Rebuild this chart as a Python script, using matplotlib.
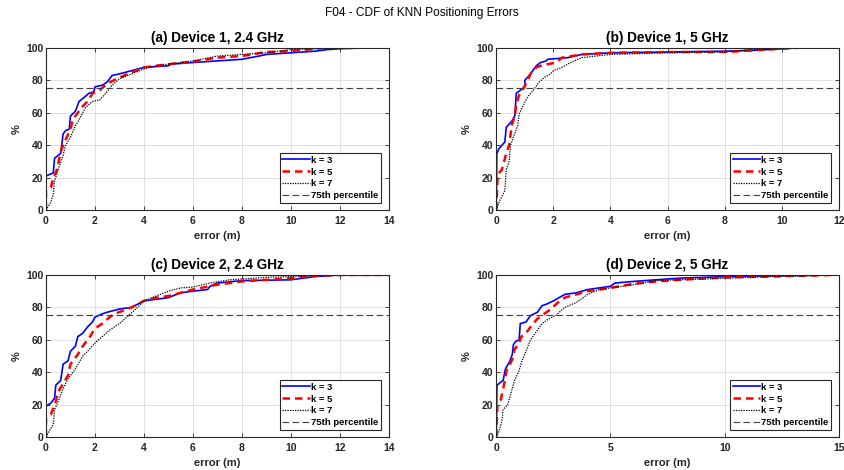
import numpy as np
import matplotlib.pyplot as plt

# CDF curves: (error in m, cumulative %)
a_k3_x = [0, 0, 0.3, 0.35, 0.6, 0.7, 0.8, 0.95, 1.0, 1.2, 1.35, 1.6, 1.75, 1.95, 2.0, 2.3, 2.5, 2.7, 3.0, 3.5, 4, 5, 5.1, 6, 8, 8.7, 9, 10, 11, 11.5, 12, 13]
a_k3_y = [0, 21, 23, 32, 35, 47, 49, 50, 58, 61, 67, 70, 72, 73, 76, 77, 79, 83, 84, 86, 88, 89, 90, 91, 93, 95, 96, 97, 98, 99, 99.5, 100]
a_k5_x = [0, 0, 0.2, 0.3, 0.45, 0.6, 0.7, 0.85, 1.0, 1.1, 1.35, 1.5, 1.7, 1.9, 2.2, 2.5, 2.9, 3.5, 4, 5, 6, 7, 8, 9, 10, 11, 11.5]
a_k5_y = [0, 12, 14, 20, 25, 36, 40, 45, 50, 56, 61, 64, 67, 72, 74, 78, 81, 85, 88, 90, 91.5, 94, 95, 97.5, 98, 99.5, 100]
a_k7_x = [0, 0.2, 0.3, 0.35, 0.5, 0.7, 0.8, 1.0, 1.2, 1.4, 1.6, 1.9, 2.2, 2.5, 2.7, 3.0, 3.5, 4, 4.5, 5, 6, 7, 8, 9, 10, 11, 11.5]
a_k7_y = [0, 5, 10, 18, 25, 34, 40, 45, 52, 57, 63, 67, 68, 73, 77, 81, 84, 87, 89, 90, 92, 95, 96, 97, 99, 99.5, 100]

b_k3_x = [0, 0.02, 0.1, 0.3, 0.35, 0.55, 0.65, 0.7, 0.85, 1.0, 1.0, 1.2, 1.4, 1.55, 1.75, 1.8, 2.5, 3, 4, 6, 8, 9, 10.5]
b_k3_y = [0, 35, 38, 42, 51, 55, 58, 72, 74, 76, 80, 84, 89, 91, 92, 93, 94, 96, 97, 97.5, 98, 98.5, 100]
b_k5_x = [0, 0.05, 0.2, 0.35, 0.45, 0.55, 0.65, 0.7, 0.8, 0.95, 1.1, 1.2, 1.4, 1.55, 1.8, 2.1, 2.3, 3, 4, 6, 8, 9, 10.5]
b_k5_y = [0, 22, 25, 35, 40, 53, 58, 65, 71, 75, 80, 84, 88, 89, 90, 91, 94, 96, 97, 97.5, 97.5, 98.5, 100]
b_k7_x = [0, 0.1, 0.3, 0.35, 0.45, 0.5, 0.6, 0.75, 0.8, 0.9, 1.1, 1.3, 1.5, 1.7, 1.9, 2.0, 2.3, 2.6, 3, 3.5, 4, 6, 8, 9, 10.5]
b_k7_y = [0, 5, 12, 25, 30, 40, 45, 52, 59, 63, 70, 74, 79, 82, 84, 86, 88, 91, 94, 95, 96, 97, 97.5, 99, 100]

c_k3_x = [0, 0, 0.2, 0.35, 0.4, 0.6, 0.7, 0.9, 1.0, 1.2, 1.3, 1.5, 1.7, 1.9, 2.0, 2.3, 2.5, 3.0, 3.5, 4, 4.5, 5, 5.5, 6, 6.6, 6.7, 7, 8, 10, 11, 12, 14]
c_k3_y = [0, 19, 21, 24, 32, 35, 45, 47, 53, 56, 62, 64, 68, 71, 74, 76, 77, 79, 80, 84, 85, 86, 89, 90, 91, 93, 95, 96.5, 97, 99, 100, 100]
c_k5_x = [0, 0, 0.2, 0.3, 0.4, 0.5, 0.7, 0.9, 1.0, 1.3, 1.5, 1.8, 2.0, 2.3, 2.6, 2.8, 3.5, 4, 4.5, 5, 5.5, 6, 7, 8, 9, 10, 11, 12, 14]
c_k5_y = [0, 12, 14, 18, 22, 28, 33, 38, 45, 51, 56, 62, 67, 70, 74, 76, 80, 84, 86, 87, 89, 91, 94, 96, 97, 98, 99.5, 100, 100]
c_k7_x = [0, 0.1, 0.3, 0.35, 0.5, 0.7, 0.9, 1.2, 1.5, 1.7, 2.0, 2.3, 2.6, 3.0, 3.3, 3.6, 4, 4.5, 5, 5.5, 6, 6.7, 7.5, 8, 9, 10, 11, 12, 14]
c_k7_y = [0, 3, 8, 17, 22, 30, 36, 42, 50, 53, 58, 62, 66, 70, 74, 78, 84, 87, 90, 92, 92.5, 95, 97, 97.5, 98.5, 99, 99.5, 100, 100]

d_k3_x = [0, 0.03, 0.3, 0.4, 0.6, 0.7, 0.75, 0.85, 1.0, 1.05, 1.3, 1.5, 1.8, 2.0, 2.2, 2.5, 3.0, 3.5, 4, 4.5, 5, 5.2, 6, 7, 8, 10, 12, 14.7]
d_k3_y = [0, 32, 35, 42, 47, 51, 57, 59, 60, 70, 71, 75, 77, 81, 82, 84, 88, 89, 91, 92, 93, 95, 96, 97, 98, 99, 99.5, 100]
d_k5_x = [0, 0.05, 0.2, 0.35, 0.45, 0.6, 0.7, 0.8, 1.0, 1.1, 1.3, 1.5, 1.8, 2.0, 2.3, 2.7, 3.0, 3.5, 4, 5, 6, 7, 8, 10, 12, 14.7]
d_k5_y = [0, 20, 23, 33, 41, 45, 48, 54, 58, 62, 64, 68, 73, 75, 78, 83, 86, 88, 90, 92, 94.5, 96, 97, 98.5, 99, 100]
d_k7_x = [0, 0.1, 0.25, 0.3, 0.5, 0.6, 0.8, 1.0, 1.1, 1.3, 1.5, 1.7, 2.0, 2.3, 2.6, 3.0, 3.5, 4.0, 4.5, 5, 6, 7, 8, 10, 12, 14, 14.7]
d_k7_y = [0, 3, 10, 17, 20, 25, 35, 41, 46, 53, 60, 64, 70, 73, 75, 80, 83, 88, 91, 92, 94, 96.5, 97, 98, 99, 99.5, 100]

titles = ['(a) Device 1, 2.4 GHz', '(b) Device 1, 5 GHz', '(c) Device 2, 2.4 GHz', '(d) Device 2, 5 GHz']
xmax = [14, 12, 14, 15]
xstep = [2, 2, 2, 5]
curves = [
    [(a_k3_x, a_k3_y), (a_k5_x, a_k5_y), (a_k7_x, a_k7_y)],
    [(b_k3_x, b_k3_y), (b_k5_x, b_k5_y), (b_k7_x, b_k7_y)],
    [(c_k3_x, c_k3_y), (c_k5_x, c_k5_y), (c_k7_x, c_k7_y)],
    [(d_k3_x, d_k3_y), (d_k5_x, d_k5_y), (d_k7_x, d_k7_y)],
]
k_labels = ['k = 3', 'k = 5', 'k = 7']
styles = [dict(color='#0000ff', ls='-', lw=1.2),
          dict(color='#ff0000', ls=(0, (3, 2)), lw=1.8),
          dict(color='#000000', ls=(0, (1, 1)), lw=0.9)]

plt.rcParams['font.family'] = ['Liberation Sans', 'DejaVu Sans']
fig = plt.figure(figsize=(8.44, 4.70), dpi=100, facecolor='white')
fig.text(0.5, 0.972, 'F04 - CDF of KNN Positioning Errors', ha='center', va='center', fontsize=8.6)

lefts = [0.0545, 0.588, 0.0545, 0.588]
bottoms = [0.553, 0.553, 0.070, 0.070]
axc = '#262626'
for i in range(4):
    ax = fig.add_axes([lefts[i], bottoms[i], 0.406, 0.345])
    for (x, y), lab, st in zip(curves[i], k_labels, styles):
        ax.plot(x, y, label=lab, **st)
    ax.axhline(75, color='#404040', ls=(0, (6, 3)), lw=0.8, label='75th percentile')
    ax.set_xlim(0, xmax[i])
    ax.set_ylim(0, 100)
    ax.set_xticks(np.arange(0, xmax[i] + 0.1, xstep[i]))
    ax.set_yticks(np.arange(0, 101, 20))
    ax.grid(True, color='#dcdcdc', lw=0.6)
    ax.set_axisbelow(True)
    ax.tick_params(direction='in', top=True, right=True, length=3, width=0.6,
                   colors=axc, labelsize=7.5)
    ax.tick_params(axis='x', pad=4.5)
    ax.tick_params(axis='y', pad=2)
    for lbl in ax.get_xticklabels() + ax.get_yticklabels():
        lbl.set_fontweight('bold')
    for s in ax.spines.values():
        s.set_color(axc)
        s.set_linewidth(0.8)
    ax.set_title(titles[i], fontsize=9.8, fontweight='bold', color='black', pad=4)
    ax.set_xlabel('error (m)', fontsize=8, fontweight='bold', color=axc, labelpad=3)
    ax.set_ylabel('%', fontsize=8, fontweight='bold', color=axc, labelpad=3)
    leg = ax.legend(loc='lower right', prop={'weight': 'bold', 'size': 6.8},
                    fancybox=False, framealpha=1, edgecolor=axc, handlelength=2.9,
                    handletextpad=0.1, borderpad=0.3, labelspacing=0.3,
                    borderaxespad=0, bbox_to_anchor=(0.977, 0.043))
    leg.get_frame().set_linewidth(0.8)

fig.savefig('out.png', dpi=100, facecolor='white')
